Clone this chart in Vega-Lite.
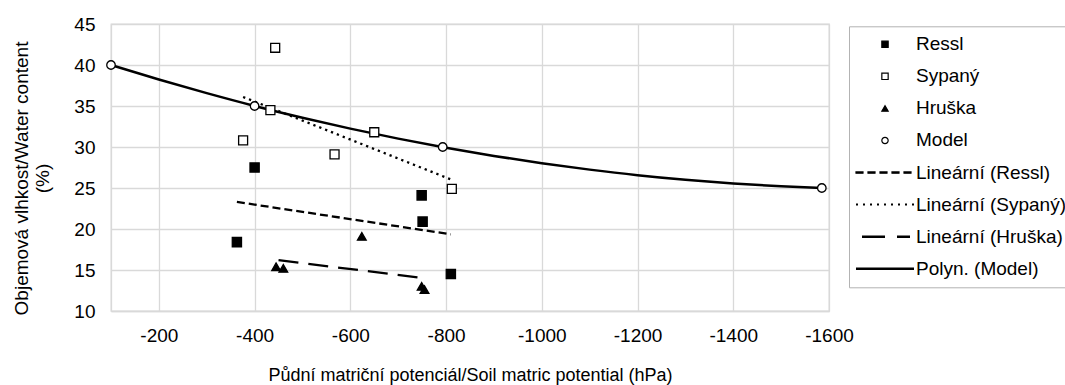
{
  "$schema": "https://vega.github.io/schema/vega-lite/v6.json",
  "width": 718,
  "height": 287,
  "autosize": {"type": "none"},
  "padding": {"left": 111, "top": 24, "right": 236, "bottom": 74},
  "background": "white",
  "config": {
    "font": "Liberation Sans",
    "view": {"stroke": "#d9d9d9", "strokeWidth": 1.3},
    "axis": {
      "gridColor": "#d9d9d9",
      "gridWidth": 1.3,
      "domainColor": "#d9d9d9",
      "domainWidth": 1.3,
      "ticks": false,
      "tickSize": 0,
      "labelFlush": false,
      "labelFont": "Liberation Sans",
      "labelFontSize": 19,
      "labelColor": "#000000",
      "titleFont": "Liberation Sans",
      "titleFontSize": 19,
      "titleFontWeight": "normal",
      "titleColor": "#000000"
    }
  },
  "datasets": {
    "points": [
      {"series": "Ressl", "x": -400, "y": 27.5},
      {"series": "Ressl", "x": -363, "y": 18.4},
      {"series": "Ressl", "x": -749, "y": 24.1},
      {"series": "Ressl", "x": -751, "y": 20.9},
      {"series": "Ressl", "x": -810, "y": 14.5},
      {"series": "Sypaný", "x": -443, "y": 42.1},
      {"series": "Sypaný", "x": -376, "y": 30.8},
      {"series": "Sypaný", "x": -433, "y": 34.5},
      {"series": "Sypaný", "x": -567, "y": 29.1},
      {"series": "Sypaný", "x": -650, "y": 31.8},
      {"series": "Sypaný", "x": -812, "y": 24.9},
      {"series": "Hruška", "x": -445, "y": 15.4},
      {"series": "Hruška", "x": -460, "y": 15.2},
      {"series": "Hruška", "x": -624, "y": 19.1},
      {"series": "Hruška", "x": -749, "y": 13.0},
      {"series": "Hruška", "x": -755, "y": 12.6},
      {"series": "Model", "x": -100, "y": 40},
      {"series": "Model", "x": -400, "y": 35},
      {"series": "Model", "x": -793, "y": 30},
      {"series": "Model", "x": -1585, "y": 25}
    ],
    "trends": [
      {"series": "Lineární (Ressl)", "x": -363, "y": 23.3},
      {"series": "Lineární (Ressl)", "x": -810, "y": 19.35},
      {"series": "Lineární (Sypaný)", "x": -376, "y": 36.1},
      {"series": "Lineární (Sypaný)", "x": -812, "y": 26.0},
      {"series": "Lineární (Hruška)", "x": -450, "y": 16.2},
      {"series": "Lineární (Hruška)", "x": -755, "y": 14.0}
    ],
    "curve": [
      {"series": "Polyn. (Model)", "x": -100, "y": 40.0},
      {"series": "Polyn. (Model)", "x": -200, "y": 38.23},
      {"series": "Polyn. (Model)", "x": -300, "y": 36.57},
      {"series": "Polyn. (Model)", "x": -400, "y": 35.01},
      {"series": "Polyn. (Model)", "x": -500, "y": 33.57},
      {"series": "Polyn. (Model)", "x": -600, "y": 32.24},
      {"series": "Polyn. (Model)", "x": -700, "y": 31.02},
      {"series": "Polyn. (Model)", "x": -800, "y": 29.91},
      {"series": "Polyn. (Model)", "x": -900, "y": 28.91},
      {"series": "Polyn. (Model)", "x": -1000, "y": 28.02},
      {"series": "Polyn. (Model)", "x": -1100, "y": 27.24},
      {"series": "Polyn. (Model)", "x": -1200, "y": 26.56},
      {"series": "Polyn. (Model)", "x": -1300, "y": 26.0},
      {"series": "Polyn. (Model)", "x": -1400, "y": 25.55},
      {"series": "Polyn. (Model)", "x": -1500, "y": 25.21},
      {"series": "Polyn. (Model)", "x": -1585, "y": 25.0}
    ]
  },
  "encoding": {
    "x": {
      "field": "x",
      "type": "quantitative",
      "scale": {"domain": [-1600, -100], "reverse": true, "nice": false, "zero": false},
      "axis": {
        "values": [-200, -400, -600, -800, -1000, -1200, -1400, -1600],
        "labelExpr": "'' + datum.value",
        "labelFlush": false,
        "labelPadding": 15,
        "title": "Půdní matriční potenciál/Soil matric potential (hPa)",
        "titleFontSize": 18,
        "titleY": 69,
        "titleBaseline": "alphabetic"
      }
    },
    "y": {
      "field": "y",
      "type": "quantitative",
      "scale": {"domain": [10, 45], "nice": false, "zero": false},
      "axis": {
        "values": [10, 15, 20, 25, 30, 35, 40, 45],
        "labelFlush": false,
        "labelPadding": 16,
        "title": ["Objemová vlhkost/Water content", "(%)"],
        "titleAngle": 270,
        "titleX": -84,
        "titleY": 154,
        "titleAlign": "center",
        "titleBaseline": "alphabetic",
        "titleLineHeight": 21.5
      }
    }
  },
  "layer": [
    {
      "data": {"name": "curve"},
      "mark": {"type": "line", "color": "black", "strokeWidth": 2.5, "interpolate": "monotone"},
      "encoding": {}
    },
    {
      "data": {"name": "trends"},
      "mark": {"type": "line", "color": "black", "strokeWidth": 2.3},
      "encoding": {
        "strokeDash": {
          "field": "series",
          "type": "nominal",
          "scale": {
            "domain": ["Lineární (Ressl)", "Lineární (Sypaný)", "Lineární (Hruška)"],
            "range": [[8, 4], [2.3, 4], [20, 10]]
          },
          "legend": null
        }
      }
    },
    {
      "data": {"name": "points"},
      "mark": {"type": "point", "filled": true, "stroke": "black", "strokeWidth": 1.3, "opacity": 1},
      "encoding": {
        "color": {
          "field": "series",
          "type": "nominal",
          "scale": {
            "domain": ["Ressl", "Sypaný", "Hruška", "Model", "Lineární (Ressl)", "Lineární (Sypaný)", "Lineární (Hruška)", "Polyn. (Model)"],
            "range": ["black", "white", "black", "white", "black", "black", "black", "black"]
          },
          "legend": {
            "orient": "none", "legendX": 738, "legendY": 2.3, "title": null, "padding": 8.5,
            "strokeColor": "#b3b3b3", "fillColor": "white",
            "labelFont": "Liberation Sans", "labelFontSize": 19, "labelColor": "#000000", "labelLimit": 400,
            "rowPadding": 12.06, "symbolSize": 40, "symbolStrokeWidth": 1.2, "symbolStrokeColor": "black",
            "symbolOffset": 18, "labelOffset": 21.5
          }
        },
        "shape": {
          "field": "series",
          "type": "nominal",
          "scale": {
            "domain": ["Ressl", "Sypaný", "Hruška", "Model", "Lineární (Ressl)", "Lineární (Sypaný)", "Lineární (Hruška)", "Polyn. (Model)"],
            "range": [
              "square",
              "square",
              "triangle-up",
              "circle",
              "M-9.17,-0.2H-6.96V0.2H-9.17ZM-5.38,-0.2H-3.16V0.2H-5.38ZM-1.58,-0.2H0.63V0.2H-1.58ZM2.21,-0.2H4.43V0.2H2.21ZM6.01,-0.2H8.22V0.2H6.01Z",
              "M-8.98,-0.12H-8.73V0.12H-8.98ZM-6.77,-0.12H-6.52V0.12H-6.77ZM-4.55,-0.12H-4.30V0.12H-4.55ZM-2.34,-0.12H-2.09V0.12H-2.34ZM-0.12,-0.12H0.12V0.12H-0.12ZM2.09,-0.12H2.34V0.12H2.09ZM4.30,-0.12H4.55V0.12H4.30ZM6.52,-0.12H6.77V0.12H6.52ZM8.73,-0.12H8.98V0.12H8.73Z",
              "M-7.08,-0.2H-0.19V0.2H-7.08ZM3.98,-0.2H7.72V0.2H3.98Z",
              "M-8.98,-0.2H8.98V0.2H-8.98Z"
            ]
          },
          "legend": {
            "orient": "none", "legendX": 738, "legendY": 2.3, "title": null, "padding": 8.5,
            "strokeColor": "#b3b3b3", "fillColor": "white",
            "labelFont": "Liberation Sans", "labelFontSize": 19, "labelColor": "#000000", "labelLimit": 400,
            "rowPadding": 12.06, "symbolSize": 40, "symbolStrokeWidth": 1.2, "symbolStrokeColor": "black",
            "symbolOffset": 18, "labelOffset": 21.5
          }
        },
        "size": {
          "field": "series",
          "type": "nominal",
          "scale": {"domain": ["Ressl", "Sypaný", "Hruška", "Model"], "range": [85, 72, 100, 60]},
          "legend": null
        }
      }
    }
  ]
}
